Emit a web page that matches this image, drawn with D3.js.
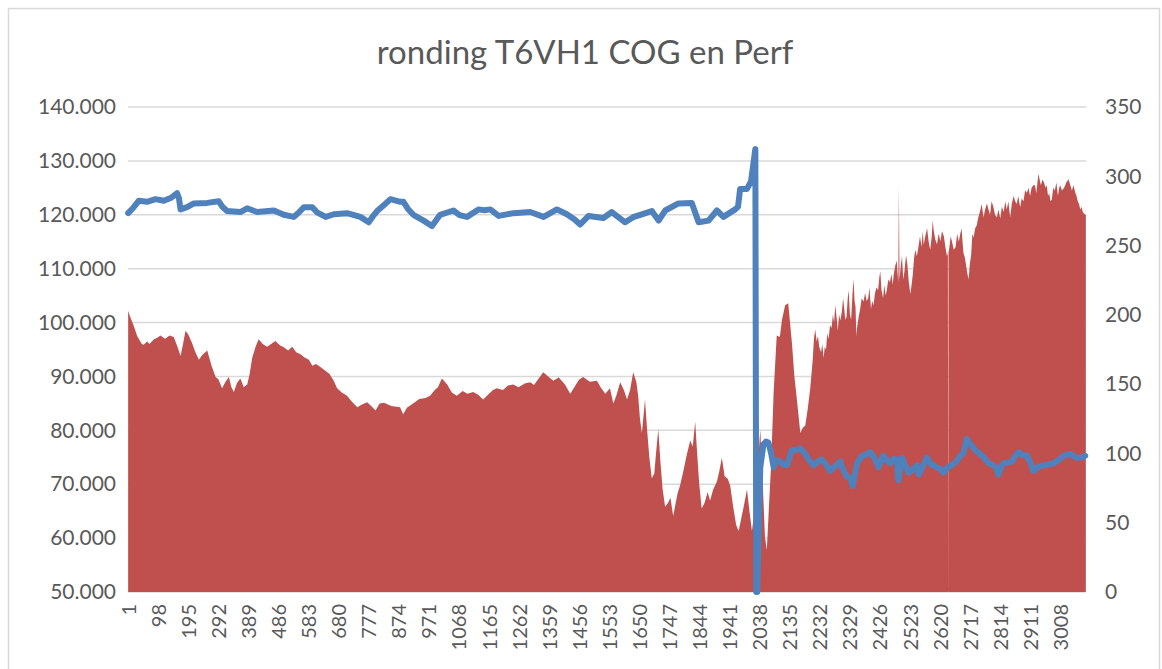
<!DOCTYPE html>
<html>
<head>
<meta charset="utf-8">
<script src="https://cdn.jsdelivr.net/npm/d3@7"></script>
<style>
  body { margin: 0; background: #fff; }
  text { font-family: Lato, "Open Sans", sans-serif; fill: #595959; }
</style>
</head>
<body>
<div id="chart"></div>
<script>
// chart size and plot area
const width = 1162;
const height = 669;
const margin = {left: 128, right: 76, top: 107, bottom: 77};

const title = "ronding T6VH1 COG en Perf";
const nCats = 3090;

// left axis (red area) and right axis (blue line) ticks
const leftTicks = [50, 60, 70, 80, 90, 100, 110, 120, 130, 140];
const rightTicks = [0, 50, 100, 150, 200, 250, 300, 350];
const xTicks = d3.range(1, nCats + 1, 97);

// red series ("Perf") at these row numbers
const redCats = [1,8,19,30,45,51,62,70,84,95,105,120,135,148,160,170,178,186,195,207,218,229,240,256,270,283,292,304,315,326,334,342,352,363,374,385,393,401,412,422,435,449,462,476,490,503,517,530,543,557,570,584,595,607,620,638,650,664,675,690,707,720,740,755,772,785,799,812,826,850,878,888,900,920,940,960,975,990,1000,1013,1030,1045,1061,1080,1095,1114,1130,1146,1165,1178,1190,1210,1226,1243,1260,1280,1298,1310,1325,1340,1356,1372,1390,1410,1427,1440,1455,1469,1490,1513,1525,1540,1555,1566,1576,1588,1600,1610,1620,1630,1640,1646,1652,1658,1663,1668,1675,1682,1690,1698,1704,1711,1718,1725,1733,1742,1750,1759,1767,1774,1781,1792,1803,1814,1822,1830,1836,1843,1851,1860,1870,1878,1888,1900,1908,1916,1925,1935,1943,1952,1962,1970,1978,1987,1997,2005,2013,2020,2030,2040,2048,2055,2061,2068,2075,2083,2093,2103,2110,2120,2130,2142,2150,2158,2169,2177,2185,2193,2201,
  2209,2213,2217,2222,2226,2230,2236,2240,2244,2248,2252,2256,2260,2265,2270,2274,2278,2282,2286,2290,2294,2298,2303,2307,2310,2314,2318,2322,2325,2329,2333,2337,2341,2344,2347,2350,2352,2357,2362,2367,2373,2378,2383,2388,2392,2397,2401,2405,2410,2415,2420,2424,2427,2431,2436,2440,2444,2448,2453,2458,2463,2467,2470,2475,2480,2483,2485,2487,2489,2493,2497,2501,2505,2510,2514,2519,2524,2528,2532,2536,2540,2545,2550,2555,2560,2564,2567,2572,2578,2583,2588,2593,2596,2599,2604,2610,2615,2621,2626,2632,2637,2642,2645,2646,2647,2650,2654,2658,2664,2670,2675,2680,2685,2689,2695,2700,2704,2708,2712,2716,2720,2724,2728,2733,2738,2743,2749,2754,2760,2765,2771,2776,2781,2786,2792,2797,2803,2808,2814,2819,2825,2830,2835,2840,2846,2851,2857,2862,2867,2872,2878,2883,2889,2894,2900,2905,2910,2915,2921,2926,2930,2934,2937,2941,2945,2950,2955,2960,2964,2968,2972,2976,2980,2985,2990,2995,3000,3004,3007,3013,3020,3027,3034,3040,3045,3050,3056,3060,3064,3068,3072,3076,3080,3085,3088,3090];
const redVals = [102.2,101.0,99.4,97.5,96.0,95.9,96.5,96.0,96.9,97.2,97.6,97.0,97.6,97.3,95.5,93.8,96.0,98.5,97.8,96.2,94.5,93.1,94.0,94.8,92.0,89.9,89.5,87.8,89.0,89.9,88.0,87.1,88.8,89.6,88.0,88.5,90.5,93.4,95.5,96.9,96.0,95.5,96.0,96.6,95.8,95.4,94.8,95.5,94.5,94.1,93.5,93.1,92.0,92.3,91.8,91.0,90.5,89.2,87.8,87.0,86.4,85.5,84.3,84.8,85.2,84.5,83.7,85.0,85.1,84.5,84.3,83.0,84.2,85.0,85.8,86.0,86.4,87.5,88.0,89.6,88.5,87.0,86.4,87.3,86.8,87.1,86.6,85.7,86.8,87.5,87.8,87.5,88.3,88.5,88.0,88.7,88.9,88.4,89.6,90.8,90.0,89.2,89.8,88.5,86.8,88.0,89.4,89.9,89.0,89.2,88.0,86.8,87.8,85.0,86.5,88.9,87.5,85.7,87.5,90.8,89.0,86.4,82.0,79.5,82.5,85.7,80.0,75.0,71.1,72.0,76.0,80.2,74.0,69.0,65.8,66.5,67.5,64.1,66.5,68.5,69.7,72.5,75.5,78.1,77.0,81.6,76.0,70.0,65.5,66.5,68.5,67.0,69.0,70.5,72.5,74.9,71.5,71.0,69.7,66.0,62.5,61.3,63.5,66.0,69.0,65.0,61.3,64.5,72.0,80.1,70.0,60.2,57.8,66.0,73.9,87.1,97.6,97.3,100.5,103.2,103.6,96.2,90.0,85.7,79.5,80.5,80.9,84.0,87.8,
  93.0,97.0,98.7,96.5,97.5,95.5,94.5,96.0,93.4,95.5,95.0,98.0,96.9,99.5,99.0,101.5,100.0,103.2,101.0,98.5,101.5,100.4,102.0,104.5,103.0,100.5,101.0,104.5,106.0,101.5,100.5,105.0,108.1,104.0,103.0,97.5,99.0,101.0,102.5,104.5,103.9,105.5,104.0,104.5,106.5,102.5,104.0,103.2,105.5,106.5,106.0,108.5,109.5,106.0,104.5,107.0,105.0,106.0,108.0,107.5,109.0,107.0,108.8,110.5,111.5,109.0,107.5,125.5,108.0,110.5,112.3,108.0,109.5,112.5,111.0,107.5,105.3,107.0,109.0,112.0,113.5,112.3,114.0,116.0,114.0,117.0,114.4,116.0,117.5,115.0,113.5,116.0,119.0,117.2,115.5,114.5,116.5,115.1,117.0,116.0,114.0,112.3,113.0,50.0,113.0,114.0,116.0,115.1,113.5,114.0,116.5,115.0,116.5,117.5,113.0,112.0,110.5,109.0,108.1,111.0,112.5,116.5,115.8,117.5,118.0,119.5,120.7,122.0,119.5,121.0,122.1,121.0,120.0,122.5,121.4,120.0,119.5,121.0,119.3,121.5,120.5,122.5,121.0,122.5,119.5,122.0,123.5,122.5,122.0,123.5,121.4,123.0,122.5,124.5,124.1,125.0,123.5,125.0,125.5,125.5,124.0,126.0,127.6,126.5,125.5,126.5,126.0,125.0,125.5,123.5,124.0,122.5,122.8,125.0,124.5,126.0,123.5,125.0,125.5,124.5,125.0,126.0,126.6,125.5,124.5,125.5,124.1,123.5,122.5,122.0,121.0,121.5,120.5,120.2,120.0,120.0];

// blue series ("COG"), right axis
const blueCats = [1,19,35,62,89,116,138,159,165,170,191,213,256,293,305,320,363,385,417,471,503,535,550,568,595,610,638,664,707,750,777,790,804,830,847,879,889,905,921,954,981,995,1007,1050,1070,1094,1131,1150,1169,1196,1244,1298,1341,1384,1416,1440,1459,1486,1534,1561,1604,1630,1653,1690,1712,1733,1776,1819,1841,1873,1900,1921,1959,1968,1975,1997,2010,2024,2027,2030,2040,2050,2058,2066,2075,2083,2092,2104,2115,2126,2134,2142,2155,2169,2185,2198,2212,2225,2239,2252,2266,2282,2298,2308,2319,2330,2338,2345,2352,2368,2380,2394,2408,2421,2437,2448,2459,2470,2481,2484,2486,2488,2497,2507,2518,2530,2545,2551,2563,2577,2592,2609,2620,2631,2645,2658,2672,2685,2695,2706,2720,2735,2749,2762,2776,2792,2800,2808,2816,2825,2840,2852,2862,2873,2885,2900,2912,2921,2935,2953,2970,2986,3000,3018,3040,3050,3061,3075,3088];
const blueVals = [273.4,277.7,282.3,281.6,283.5,282.3,284.3,287.8,284.0,276.1,277.7,280.4,280.8,282.0,278.0,274.9,274.2,276.9,274.2,275.3,272.2,270.7,273.5,277.7,277.7,274.0,270.7,272.6,273.4,270.7,266.8,271.0,274.9,280.0,283.5,281.6,281.6,276.0,272.2,268.0,264.1,268.5,272.2,275.3,272.0,270.7,276.1,275.5,276.1,271.4,273.4,274.2,270.7,276.1,272.6,269.0,265.2,271.4,269.9,274.2,266.8,270.5,272.2,274.9,268.0,275.3,280.4,280.8,266.8,268.0,275.3,270.7,276.1,278.0,290.9,290.9,296.3,319.7,0,0,90.0,106.4,108.5,107.8,100.0,90.1,95.0,94.2,92.0,91.5,97.0,102.4,102.5,103.7,99.6,95.0,91.5,94.0,95.6,92.0,87.4,91.0,94.2,88.0,83.4,82.0,76.6,85.0,92.9,98.3,99.0,101.0,97.0,90.1,98.3,95.0,92.9,96.0,95.6,82.0,80.6,84.0,96.9,92.0,86.1,88.0,91.5,84.7,90.0,96.9,92.0,90.1,89.0,86.1,90.0,91.5,94.0,98.3,100.0,110.5,106.0,102.0,99.6,97.0,92.9,91.5,90.0,84.7,90.0,92.9,93.5,94.2,98.0,101.0,99.0,98.3,93.0,87.4,90.0,91.5,92.0,92.9,95.0,98.3,99.6,98.0,96.9,97.0,98.3];

const svg = d3.select("#chart")
  .append("svg")
  .attr("width", width)
  .attr("height", height);

// outer chart border
svg.append("rect")
  .attr("x", 8.5).attr("y", 8.5)
  .attr("width", 1151).attr("height", 680)
  .attr("fill", "none")
  .attr("stroke", "#d9d9d9")
  .attr("stroke-width", 1.5);

// scales
const x = d3.scaleLinear()
  .domain([0.5, nCats + 0.5])
  .range([margin.left, width - margin.right]);

const yLeft = d3.scaleLinear()
  .domain([50, 140])
  .range([height - margin.bottom, margin.top]);

const yRight = d3.scaleLinear()
  .domain([0, 350])
  .range([height - margin.bottom, margin.top]);

// gridlines
svg.append("g")
  .selectAll("line")
  .data(leftTicks)
  .join("line")
    .attr("x1", margin.left)
    .attr("x2", width - margin.right)
    .attr("y1", d => yLeft(d))
    .attr("y2", d => yLeft(d))
    .attr("stroke", "#d9d9d9")
    .attr("stroke-width", 1.5);

// red area
const redData = d3.zip(redCats, redVals);
const area = d3.area()
  .x(d => x(d[0]))
  .y0(yLeft(50))
  .y1(d => yLeft(d[1]));

svg.append("path")
  .datum(redData)
  .attr("d", area)
  .attr("fill", "#c0504d");

// blue line
const blueData = d3.zip(blueCats, blueVals);
const line = d3.line()
  .x(d => x(d[0]))
  .y(d => yRight(d[1]));

svg.append("path")
  .datum(blueData)
  .attr("d", line)
  .attr("fill", "none")
  .attr("stroke", "#4f81bd")
  .attr("stroke-width", 6)
  .attr("stroke-linejoin", "round")
  .attr("stroke-linecap", "round");

// left axis (dutch style thousands: 140.000)
const leftAxis = svg.append("g")
  .attr("transform", `translate(${margin.left - 9}, 0)`)
  .call(d3.axisLeft(yLeft).tickValues(leftTicks).tickSize(0)
    .tickFormat(d => d + ".000"));
leftAxis.select(".domain").remove();
leftAxis.selectAll("text")
  .attr("font-size", "21px")
  .attr("fill", "#595959")
  .attr("font-family", "Lato");

// right axis
const rightAxis = svg.append("g")
  .attr("transform", `translate(${width - margin.right + 16}, 0)`)
  .call(d3.axisRight(yRight).tickValues(rightTicks).tickSize(0));
rightAxis.select(".domain").remove();
rightAxis.selectAll("text")
  .attr("font-size", "21px")
  .attr("fill", "#595959")
  .attr("font-family", "Lato");

// bottom axis, rotated labels
const bottomAxis = svg.append("g")
  .attr("transform", `translate(0, ${height - margin.bottom})`)
  .call(d3.axisBottom(x).tickValues(xTicks).tickSize(0).tickFormat(d3.format("d")));
bottomAxis.select(".domain").remove();
bottomAxis.selectAll("text")
  .attr("transform", "rotate(-90)")
  .attr("x", -12)
  .attr("y", 0)
  .attr("dy", "0.35em")
  .attr("text-anchor", "end")
  .attr("font-size", "20px")
  .attr("fill", "#595959")
  .attr("font-family", "Lato");

// title
svg.append("text")
  .attr("x", 585)
  .attr("y", 64)
  .attr("text-anchor", "middle")
  .attr("font-size", "33px")
  .text(title);
</script>
</body>
</html>
